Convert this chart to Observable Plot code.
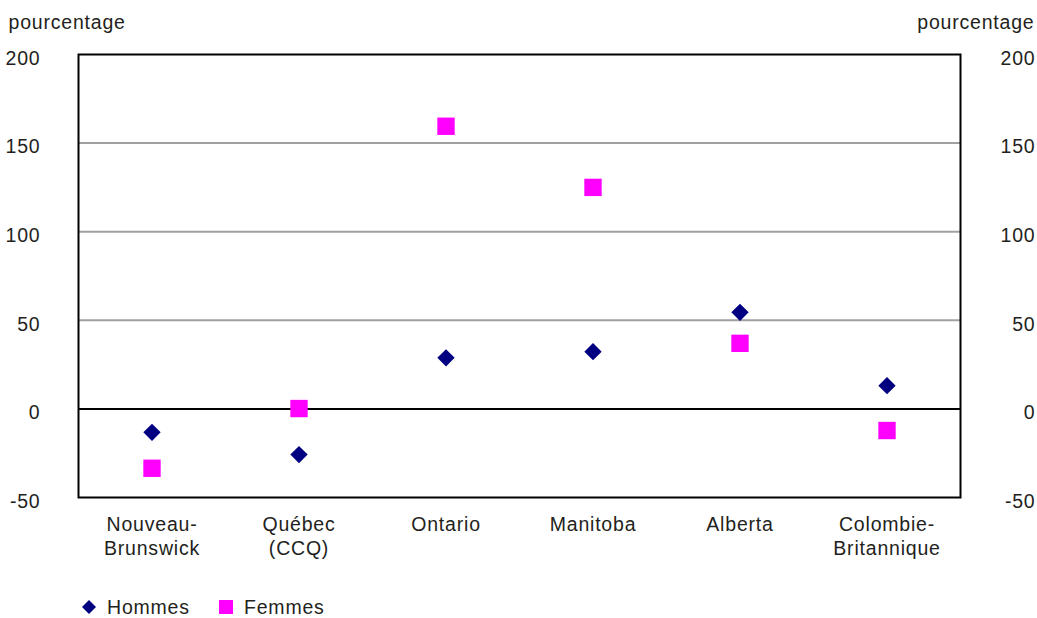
<!DOCTYPE html>
<html>
<head>
<meta charset="utf-8">
<script src="https://cdn.jsdelivr.net/npm/d3@7"></script>
<script src="https://cdn.jsdelivr.net/npm/@observablehq/plot@0.6"></script>
<style>
  body { margin: 0; background: #fff; }
  #wrap { position: relative; width: 1037px; height: 618px; font-family: "Liberation Sans", Arial, sans-serif; color: #231f20; }
  .leg { position: absolute; top: 595px; height: 24px; font-size: 19.5px; letter-spacing: 0.8px; line-height: 24px; display: flex; align-items: center; }
  .leg svg { margin-right: 11px; }
</style>
</head>
<body>
<div id="wrap"></div>
<script>
const categories = ["Nouveau-\nBrunswick", "Québec\n(CCQ)", "Ontario", "Manitoba", "Alberta", "Colombie-\nBritannique"];
const hommes = [-13.2, -25.8, 28.8, 32.3, 54.5, 13.1];
const femmes = [-33.5, 0.2, 159.5, 125, 37, -12.2];
const yTicks = [-50, 0, 50, 100, 150, 200];
const gridTicks = [50, 100, 150];
const seriesNames = ["Hommes", "Femmes"];
const seriesColors = ["#000080", "#ff00ff"];

const dataH = categories.map((c, i) => ({cat: c, value: hommes[i]}));
const dataF = categories.map((c, i) => ({cat: c, value: femmes[i]}));
const fmt = d => String(d);

const chart = Plot.plot({
  width: 1037,
  height: 575,
  marginLeft: 78,
  marginRight: 77,
  marginTop: 54,
  marginBottom: 78,
  style: {fontFamily: "'Liberation Sans', Arial, sans-serif", fontSize: "19.5px", color: "#231f20", background: "white", letterSpacing: "0.8px"},
  x: {type: "band", domain: categories, padding: 0, label: null},
  y: {domain: [-50, 200], label: null},
  marks: [
    Plot.ruleY(gridTicks, {stroke: "#a0a0a0", strokeWidth: 2}),
    Plot.ruleY([0], {stroke: "#000", strokeWidth: 2}),
    Plot.frame({stroke: "#000", strokeWidth: 2}),
    Plot.axisY(yTicks, {anchor: "left", tickSize: 0, tickPadding: 38, dy: 4, label: null, tickFormat: fmt, fill: "#231f20"}),
    Plot.axisY(yTicks, {anchor: "right", tickSize: 0, tickPadding: 75, textAnchor: "end", dy: 4, label: null, tickFormat: fmt, fill: "#231f20"}),
    Plot.axisX({tickSize: 0, tickPadding: 16, lineHeight: 1.24, label: null, fill: "#231f20"}),
    Plot.text(["pourcentage"], {frameAnchor: "top-left", dx: -70, dy: -26, textAnchor: "start", lineAnchor: "bottom", fill: "#231f20"}),
    Plot.text(["pourcentage"], {frameAnchor: "top-right", dx: 74, dy: -26, textAnchor: "end", lineAnchor: "bottom", fill: "#231f20"}),
    Plot.dot(dataH, {x: "cat", y: "value", symbol: "diamond2", r: 7.8, fill: seriesColors[0], stroke: "none"}),
    Plot.dot(dataF, {x: "cat", y: "value", symbol: "square", r: 9.8, fill: seriesColors[1], stroke: "none"})
  ]
});

const wrap = document.getElementById("wrap");
wrap.appendChild(chart);

const legendItems = [
  {left: 82, name: seriesNames[0], color: seriesColors[0], shape: "diamond"},
  {left: 219, name: seriesNames[1], color: seriesColors[1], shape: "square"}
];
for (const it of legendItems) {
  const d = document.createElement("div");
  d.className = "leg";
  d.style.left = it.left + "px";
  const shape = it.shape === "diamond"
    ? `<polygon points="7,0 14,7 7,14 0,7" fill="${it.color}"/>`
    : `<rect x="0" y="0" width="14" height="14" fill="${it.color}"/>`;
  d.innerHTML = `<svg width="14" height="14" viewBox="0 0 14 14">${shape}</svg><span>${it.name}</span>`;
  wrap.appendChild(d);
}
</script>
</body>
</html>
